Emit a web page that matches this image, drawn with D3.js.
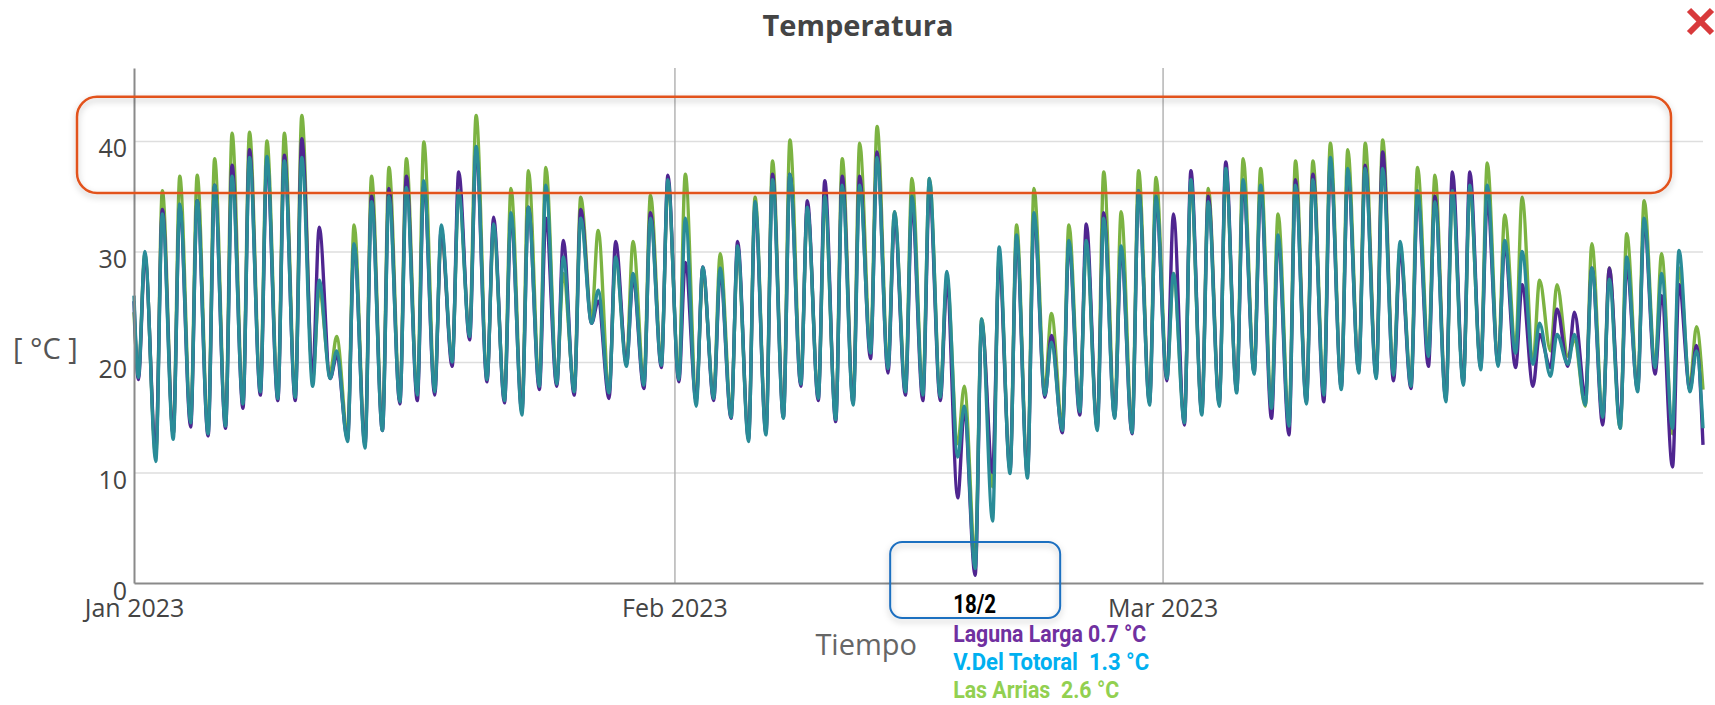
<!DOCTYPE html>
<html>
<head>
<meta charset="utf-8">
<script src="https://cdn.jsdelivr.net/npm/d3@7"></script>
<style>
  body { margin: 0; background: #fff; }
  svg text { font-family: "Open Sans", sans-serif; }
  .note { font-family: Roboto, sans-serif; font-weight: 700; white-space: pre; }
</style>
</head>
<body>
<script>
const W = 1715, H = 705;
const plotLeft = 134, plotRight = 1703, plotTop = 68, plotBottom = 583;

const firstDay = new Date(2023, 0, 1);
const lastDay = new Date(2023, 3, 1);
const yTicks = [0, 10, 20, 30, 40];
const xTicks = [new Date(2023, 0, 1), new Date(2023, 1, 1), new Date(2023, 2, 1)];

// daily minimum (early morning) and maximum (afternoon), Jan 1 .. Mar 31
const totoralLo = [18.6,11.0,13.0,14.5,13.5,14.2,16.2,17.3,16.7,16.8, 17.8,18.5,12.8,12.2,13.8,16.4,17.0,17.3,20.0,22.3,
  18.4,16.5,15.2,17.8,18.0,17.3,23.5,17.2,19.6,17.9, 19.7,18.4,16.0,16.7,15.0,12.8,13.4,14.9,18.0,16.7,
  14.8,16.1,20.8,19.4,17.3,17.0,16.8,11.4,1.3,5.6, 9.9,9.5,17.0,13.8,15.5,13.8,14.9,13.6,16.1,18.5,
  14.5,15.2,16.0,17.2,18.9,15.8,14.2,16.2,17.0,17.5, 19.0,18.5,18.8,17.8,20.5,16.4,17.9,19.3,19.6,20.8,
  19.8,18.7,19.8,16.1,15.0,14.0,17.3,19.5,14.0,17.3];
const totoralHi = [30.0,33.4,34.3,34.6,36.0,36.8,38.5,38.6,38.2,38.5, 27.4,21.0,30.7,34.5,35.0,35.8,36.4,32.4,35.5,39.5,
  32.5,33.5,34.0,36.0,29.5,33.0,26.5,29.5,28.0,33.0, 36.5,33.0,28.6,28.5,30.5,34.5,36.5,37.0,34.0,35.0,
  36.0,36.0,38.5,33.6,35.0,36.6,28.2,16.0,23.9,30.4, 31.5,33.5,21.8,31.0,31.0,33.0,30.5,35.5,35.0,28.0,
  36.5,34.5,37.5,36.5,36.0,31.5,36.0,36.5,38.5,37.5, 37.5,37.5,30.9,35.5,34.5,35.5,36.0,36.0,31.0,30.0,
  23.5,22.5,22.5,28.5,27.5,29.5,33.0,28.0,30.1,21.0];

const lagunaLo = [18.4,12.0,13.5,14.1,13.3,14.0,15.8,17.0,16.5,16.5, 19.0,18.5,13.0,12.5,13.8,16.2,16.5,17.0,19.6,22.0,
  18.2,16.3,15.5,17.5,17.8,17.0,23.5,16.7,19.8,17.6, 19.5,18.2,16.5,16.5,14.9,13.0,13.6,15.0,17.8,16.5,
  14.6,16.3,20.3,19.0,17.0,16.5,16.5,7.7,0.7,10.0, 10.2,9.8,16.8,13.6,15.2,14.0,15.0,13.5,16.3,18.3,
  14.3,15.4,16.2,17.4,19.0,14.9,13.4,16.4,16.4,17.7, 19.2,18.7,18.3,17.6,19.6,16.6,18.1,19.5,19.8,19.5,
  17.8,19.5,19.6,17.0,14.3,14.5,17.5,18.9,10.5,17.5];
const lagunaHi = [29.5,33.8,34.0,34.6,36.0,37.8,39.2,38.0,38.7,40.2, 32.2,20.5,30.5,35.0,35.7,36.8,36.0,32.0,37.2,39.0,
  33.1,33.0,34.0,33.0,31.0,33.8,25.5,30.9,27.5,33.5, 36.9,29.0,28.6,28.0,30.9,34.0,37.0,37.0,34.6,36.4,
  36.8,36.8,39.0,33.0,34.0,35.5,27.0,15.5,23.5,29.0, 31.0,33.0,22.4,30.5,32.5,33.5,30.0,35.5,34.5,33.4,
  37.3,35.0,38.1,36.0,35.5,31.0,36.5,37.0,38.0,37.0, 37.8,39.0,30.0,35.0,35.0,37.2,37.2,34.5,30.5,27.0,
  22.5,24.8,24.5,28.5,28.5,28.5,32.5,26.0,27.0,21.5];

const arriasLo = [19.0,11.5,13.5,14.8,14.0,14.5,16.5,17.8,17.2,17.2, 18.5,19.0,13.5,12.8,14.3,16.9,17.3,17.8,20.3,22.8,
  18.8,17.0,15.8,18.3,18.5,17.8,24.0,17.5,20.2,18.4, 20.2,18.9,16.8,17.2,15.5,13.4,14.0,15.4,18.5,17.2,
  15.3,16.6,21.3,19.9,17.8,17.5,17.3,12.6,2.6,8.7, 10.5,10.2,17.6,14.3,16.0,14.3,15.4,14.1,16.6,19.0,
  15.0,15.7,16.5,17.7,19.4,16.3,14.7,16.7,17.5,18.0, 19.5,19.0,19.3,18.3,21.0,16.9,18.4,19.8,20.1,21.3,
  20.0,21.0,20.5,16.0,15.0,14.0,17.8,19.8,13.5,18.0];
const arriasHi = [29.8,35.5,36.8,36.9,38.4,40.7,40.8,40.0,40.7,42.3, 26.5,22.3,32.4,36.8,37.6,38.4,39.9,31.5,35.5,42.3,
  32.0,35.7,37.3,37.6,28.0,34.9,31.9,29.5,30.9,35.1, 36.0,37.0,28.0,29.8,30.0,34.9,38.2,40.1,34.0,34.5,
  38.4,39.8,41.3,33.6,36.6,36.6,27.5,17.8,23.9,29.5, 32.4,35.7,24.4,32.4,31.0,37.2,33.6,37.3,36.7,28.0,
  36.0,35.7,37.0,38.4,37.5,33.4,38.2,38.2,39.8,39.2, 39.8,40.1,30.5,37.6,36.9,35.5,35.5,38.0,33.3,34.9,
  27.4,27.0,22.0,30.7,28.5,31.6,34.6,29.8,28.5,23.2];

// readings at the very first and last instants of the range
const totoralEdge = [26.0, 14.0];
const lagunaEdge = [25.5, 12.5];
const arriasEdge = [24.5, 17.5];

const seriesNames = ["Las Arrias", "Laguna Larga", "V.Del Totoral"];
const seriesColors = ["#7cb342", "#4f2590", "#2a8c98"];

// annotation for the coldest reading, 18/2
const noteDay = "18/2";
const noteLines = ["Laguna Larga 0.7 °C", "V.Del Totoral  1.3 °C", "Las Arrias  2.6 °C"];
const noteColors = ["#7030a0", "#00b0f0", "#92d050"];

function toPoints(lo, hi, edge) {
  const pts = [{ t: firstDay, v: edge[0] }];
  lo.forEach((v, i) => {
    const day = d3.timeDay.offset(firstDay, i);
    pts.push({ t: d3.timeHour.offset(day, 6), v: v });
    pts.push({ t: d3.timeHour.offset(day, 15), v: hi[i] });
  });
  pts.push({ t: lastDay, v: edge[1] });
  return pts;
}
const series = [
  toPoints(arriasLo, arriasHi, arriasEdge),
  toPoints(lagunaLo, lagunaHi, lagunaEdge),
  toPoints(totoralLo, totoralHi, totoralEdge)
];

const x = d3.scaleTime().domain([firstDay, lastDay]).range([plotLeft, plotRight]);
const y = d3.scaleLinear().domain([0, 46.6]).range([plotBottom, plotTop]);

const svg = d3.select("body").append("svg").attr("width", W).attr("height", H);

const defs = svg.append("defs");
defs.append("filter").attr("id", "shadow").attr("x", "-5%").attr("y", "-20%").attr("width", "110%").attr("height", "150%")
  .append("feDropShadow").attr("dx", 0).attr("dy", 3).attr("stdDeviation", 3)
  .attr("flood-color", "#000").attr("flood-opacity", 0.25);

// title and close mark
svg.append("text").attr("x", 858).attr("y", 36).attr("text-anchor", "middle")
  .attr("font-size", 29).attr("font-weight", 700).attr("fill", "#444").text("Temperatura");
const cross = svg.append("g").attr("stroke", "#d8393b").attr("stroke-width", 6);
cross.append("line").attr("x1", 1689).attr("y1", 10).attr("x2", 1712).attr("y2", 33);
cross.append("line").attr("x1", 1712).attr("y1", 10).attr("x2", 1689).attr("y2", 33);

// grid
svg.append("g").attr("transform", `translate(${plotLeft},0)`)
  .call(d3.axisLeft(y).tickValues(yTicks.slice(1)).tickSize(-(plotRight - plotLeft)).tickFormat(""))
  .call(g => g.select(".domain").remove())
  .call(g => g.selectAll("line").attr("stroke", "#dedede").attr("stroke-width", 1.5));
svg.append("g").attr("transform", `translate(0,${plotBottom})`)
  .call(d3.axisBottom(x).tickValues(xTicks.slice(1)).tickSize(-(plotBottom - plotTop)).tickFormat(""))
  .call(g => g.select(".domain").remove())
  .call(g => g.selectAll("line").attr("stroke", "#b4b4b4").attr("stroke-width", 1.5));

// series
const line = d3.line().x(d => x(d.t)).y(d => y(d.v)).curve(d3.curveMonotoneX);
svg.append("g").selectAll("path")
  .data(series)
  .join("path")
    .attr("d", line)
    .attr("fill", "none")
    .attr("stroke", (d, i) => seriesColors[i])
    .attr("stroke-width", 3.4)
    .attr("stroke-linejoin", "round")
  .append("title").text((d, i) => seriesNames[i]);

// axes
svg.append("g").attr("transform", `translate(${plotLeft},0)`)
  .call(d3.axisLeft(y).tickValues(yTicks).tickSize(0).tickSizeOuter(0).tickPadding(7))
  .call(g => g.select(".domain").attr("stroke", "#8a8a8a").attr("stroke-width", 2))
  .call(g => g.selectAll("text").attr("dy", "0.64em").attr("font-size", 25).attr("fill", "#444")
    .attr("font-family", "'Open Sans', sans-serif"));
svg.append("g").attr("transform", `translate(0,${plotBottom})`)
  .call(d3.axisBottom(x).tickValues(xTicks).tickSize(0).tickSizeOuter(0).tickPadding(16)
    .tickFormat(d3.timeFormat("%b %Y")))
  .call(g => g.select(".domain").attr("stroke", "#8a8a8a").attr("stroke-width", 2))
  .call(g => g.selectAll("text").attr("font-size", 25).attr("fill", "#444")
    .attr("font-family", "'Open Sans', sans-serif"));

svg.append("text").attr("x", 917).attr("y", 655).attr("text-anchor", "end")
  .attr("font-size", 29).attr("fill", "#666").text("Tiempo");
svg.append("text").attr("x", 13).attr("y", 359).style("white-space", "pre")
  .attr("font-size", 29).attr("fill", "#555").text("[ °C ]");

// highlight of the hot afternoons
svg.append("rect").attr("x", 77).attr("y", y(44.0)).attr("width", 1671 - 77).attr("height", y(35.3) - y(44.0))
  .attr("rx", 20).attr("fill", "none").attr("stroke", "#e2531f").attr("stroke-width", 2.5)
  .attr("filter", "url(#shadow)");

// highlight of the frost on 18/2
const cx = x(d3.timeHour.offset(d3.timeDay.offset(firstDay, 48), 6));
svg.append("rect").attr("x", cx - 85).attr("y", plotBottom - 41).attr("width", 170).attr("height", 76)
  .attr("rx", 12).attr("fill", "none").attr("stroke", "#1f6fc0").attr("stroke-width", 2)
  .attr("filter", "url(#shadow)");
svg.append("text").attr("class", "note").attr("x", cx - 22).attr("y", 613)
  .attr("font-size", 25).attr("fill", "#000")
  .attr("textLength", 43).attr("lengthAdjust", "spacingAndGlyphs").text(noteDay);
const noteWidths = [193, 196, 166];
svg.append("g").selectAll("text")
  .data(noteLines)
  .join("text")
    .attr("class", "note")
    .attr("x", cx - 22)
    .attr("y", (d, i) => 642 + i * 28)
    .attr("font-size", 23)
    .attr("fill", (d, i) => noteColors[i])
    .attr("textLength", (d, i) => noteWidths[i])
    .attr("lengthAdjust", "spacingAndGlyphs")
    .text(d => d);
</script>
</body>
</html>
